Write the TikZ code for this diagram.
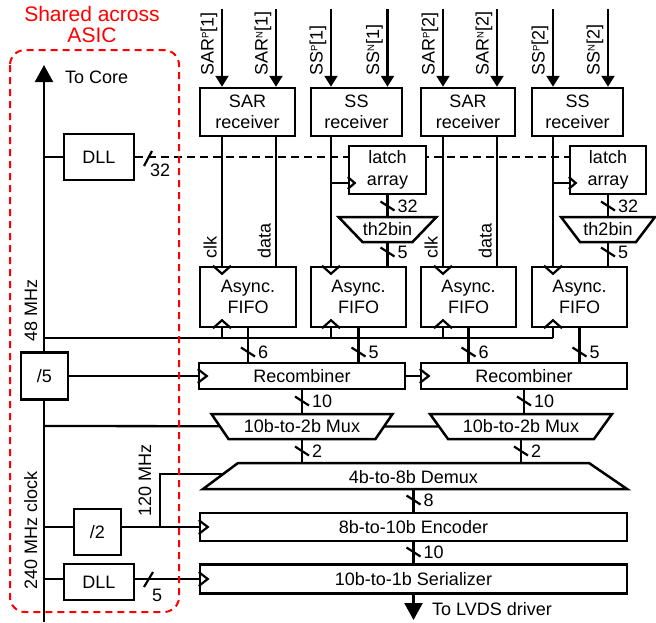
\documentclass[tikz,border=0pt]{standalone}
\usepackage{fontspec}
\setmainfont{Liberation Sans}
\usetikzlibrary{arrows.meta}
\pgfdeclarelayer{bg}
\pgfsetlayers{bg,main}
\newcommand{\sbs}[1]{\raisebox{5pt}{\fontsize{9.5}{9.5}\selectfont #1}}
\newcommand{\vbus}[4]{%
  \draw[slash] (#2-7,#3-4.5) -- (#2+7,#3+4.5);
  \node[blab] (#1) at (#2+10,#3+6.5) {#4};}
\newcommand{\cktop}[1]{\draw[ck] ([shift={(-9,0)}]#1) -- ([shift={(0,8)}]#1) -- ([shift={(9,0)}]#1);}
\newcommand{\ckbot}[1]{\draw[ck] ([shift={(-9,0)}]#1) -- ([shift={(0,-8)}]#1) -- ([shift={(9,0)}]#1);}
\newcommand{\ckleft}[1]{\draw[ck] ([shift={(0,-7)}]#1) -- ([shift={(9,0)}]#1) -- ([shift={(0,7)}]#1);}
\newcommand{\ckleftsm}[1]{\draw[ck] ([shift={(0,-6)}]#1) -- ([shift={(7,0)}]#1) -- ([shift={(0,6)}]#1);}
\begin{document}
\begin{tikzpicture}[x=1pt,y=-1pt,
  txt/.style={font=\fontsize{18}{22}\selectfont, inner sep=0pt},
  blk/.style={draw, line width=2.5pt, fill=white, inner sep=0pt, align=center, font=\fontsize{18}{21.5}\selectfont},
  wire/.style={line width=2.3pt},
  shp/.style={draw, line width=2.5pt, fill=white, line join=miter},
  ck/.style={line width=2.2pt, line join=miter},
  slash/.style={line width=2.2pt},
  inarr/.style={wire, -{Triangle[length=11pt,width=13pt]}},
  bigarr/.style={wire, -{Triangle[length=17pt,width=18pt]}},
  dllbus/.style={wire, dash pattern=on 8pt off 5pt},
  asicbox/.style={draw=red, line width=2pt, dash pattern=on 7pt off 5pt, rounded corners=15pt},
  rlab/.style={txt, rotate=90, anchor=base west},
  blab/.style={txt, anchor=base west},
]
\useasboundingbox (0,0) rectangle (656,622);

% ---------- shared region ----------
\draw[asicbox] (10,50) rectangle (179,612);
\node[txt, text=red, align=center, font=\fontsize{21}{21}\selectfont] (shared) at (92,24) {Shared across\\ASIC};

% ---------- coordinates ----------
\coordinate (mtop) at (44,65);
\coordinate (mbot) at (44,622);
\coordinate (i1) at (222,9);
\coordinate (i2) at (276,9);
\coordinate (i3) at (331,9);
\coordinate (i4) at (387.5,9);
\coordinate (i5) at (443,9);
\coordinate (i6) at (497,9);
\coordinate (i7) at (553,9);
\coordinate (i8) at (608,9);

% ---------- blocks ----------
\node[blk, minimum width=95pt, minimum height=48pt] (sar1) at (247.5,112) {SAR\\receiver};
\node[blk, minimum width=91pt, minimum height=48pt] (ss1) at (356.5,112) {SS\\receiver};
\node[blk, minimum width=94pt, minimum height=48pt] (sar2) at (468,112) {SAR\\receiver};
\node[blk, minimum width=91pt, minimum height=48pt] (ss2) at (577.5,112) {SS\\receiver};

\node[blk, minimum width=70pt, minimum height=46pt] (dll1) at (99,157) {DLL};

\node[blk, minimum width=77pt, minimum height=48pt] (latch1) at (387.5,170) {latch\\array};
\node[blk, minimum width=76pt, minimum height=48pt] (latch2) at (608,170) {latch\\array};

\coordinate (th1c) at (387.5,229.5);
\coordinate (th2c) at (608,229.5);
\draw[shp] ([shift={(-49,-12.5)}]th1c) -- ([shift={(49,-12.5)}]th1c) -- ([shift={(25,12.5)}]th1c) -- ([shift={(-25,12.5)}]th1c) -- cycle;
\draw[shp] ([shift={(-47,-12.5)}]th2c) -- ([shift={(47,-12.5)}]th2c) -- ([shift={(28,12.5)}]th2c) -- ([shift={(-28,12.5)}]th2c) -- cycle;
\node[txt] (th1) at (th1c) {th2bin};
\node[txt] (th2) at (th2c) {th2bin};

\node[blk, minimum width=96pt, minimum height=60pt] (fifo1) at (248,297) {Async.\\FIFO};
\node[blk, minimum width=95pt, minimum height=60pt] (fifo2) at (358.5,297) {Async.\\FIFO};
\node[blk, minimum width=95pt, minimum height=60pt] (fifo3) at (468.5,297) {Async.\\FIFO};
\node[blk, minimum width=95pt, minimum height=60pt] (fifo4) at (579.5,297) {Async.\\FIFO};

\node[blk, minimum width=206pt, minimum height=26pt] (rec1) at (302,376) {Recombiner};
\node[blk, minimum width=206pt, minimum height=26pt] (rec2) at (524,376) {Recombiner};
\node[blk, minimum width=47pt, minimum height=47pt] (div5) at (44.5,376) {/5};

\coordinate (m1c) at (302,426.5);
\coordinate (m2c) at (521,426.5);
\draw[shp] ([shift={(-90.5,-12.5)}]m1c) -- ([shift={(90.5,-12.5)}]m1c) -- ([shift={(73.5,12.5)}]m1c) -- ([shift={(-73.5,12.5)}]m1c) -- cycle;
\draw[shp] ([shift={(-91,-12.5)}]m2c) -- ([shift={(91,-12.5)}]m2c) -- ([shift={(73,12.5)}]m2c) -- ([shift={(-73,12.5)}]m2c) -- cycle;
\node[txt] (mux1) at (m1c) {10b-to-2b Mux};
\node[txt] (mux2) at (m2c) {10b-to-2b Mux};

\coordinate (dtl) at (238,463);
\coordinate (dtr) at (589,463);
\coordinate (dbr) at (627,489);
\coordinate (dbl) at (203,489);
\draw[shp] (dtl) -- (dtr) -- (dbr) -- (dbl) -- cycle;
\node[txt] (dmx) at (413.5,477) {4b-to-8b Demux};

\node[blk, minimum width=47pt, minimum height=46pt] (div2) at (97.5,532) {/2};
\node[blk, minimum width=427pt, minimum height=28pt] (enc) at (413.5,527) {8b-to-10b Encoder};
\node[blk, minimum width=427pt, minimum height=29pt] (ser) at (413.5,579) {10b-to-1b Serializer};
\node[blk, minimum width=70pt, minimum height=36pt] (dll2) at (99,582) {DLL};

% ---------- wires (behind blocks) ----------
\begin{pgfonlayer}{bg}
  \draw[bigarr] (mbot) -- (mtop);
  \draw[wire] (mtop |- dll1) -- (dll1.west);
  \draw[dllbus] (dll1.east) -- (latch2.west |- dll1.east);
  % inputs
  \draw[inarr] (i1) -- (i1 |- sar1.north);
  \draw[inarr] (i2) -- (i2 |- sar1.north);
  \draw[inarr] (i3) -- (i3 |- ss1.north);
  \draw[inarr] (i4) -- (i4 |- ss1.north);
  \draw[inarr] (i5) -- (i5 |- sar2.north);
  \draw[inarr] (i6) -- (i6 |- sar2.north);
  \draw[inarr] (i7) -- (i7 |- ss2.north);
  \draw[inarr] (i8) -- (i8 |- ss2.north);
  % receiver outputs
  \draw[wire] (i1 |- sar1.south) -- (i1 |- fifo1.north);
  \draw[wire] (i2 |- sar1.south) -- (i2 |- fifo1.north);
  \draw[wire] (i3 |- ss1.south) -- (i3 |- fifo2.north);
  \draw[wire] (i5 |- sar2.south) -- (i5 |- fifo3.north);
  \draw[wire] (i6 |- sar2.south) -- (i6 |- fifo3.north);
  \draw[wire] (i7 |- ss2.south) -- (i7 |- fifo4.north);
  % latch clocks
  \coordinate (lc1) at (331,183);
  \coordinate (lc2) at (553,183);
  \draw[wire] (lc1) -- (latch1.west |- lc1);
  \draw[wire] (lc2) -- (latch2.west |- lc2);
  % latch -> th2bin -> fifo
  \draw[wire] (latch1.south) -- ([shift={(0,-12.5)}]th1c);
  \draw[wire] ([shift={(0,12.5)}]th1c) -- (th1c |- fifo2.north);
  \draw[wire] (latch2.south) -- ([shift={(0,-12.5)}]th2c);
  \draw[wire] ([shift={(0,12.5)}]th2c) -- (th2c |- fifo4.north);
  % 48 MHz clock bus
  \coordinate (c48) at (44,338);
  \draw[wire] (c48) -- (i7 |- c48);
  \draw[wire] (i1 |- fifo1.south) -- (i1 |- c48);
  \draw[wire] (i3 |- fifo2.south) -- (i3 |- c48);
  \draw[wire] (i5 |- fifo3.south) -- (i5 |- c48);
  \draw[wire] (i7 |- fifo4.south) -- (i7 |- c48);
  % fifo -> recombiner
  \draw[wire] (fifo1.south) -- (fifo1.south |- rec1.north);
  \draw[wire] (fifo2.south) -- (fifo2.south |- rec1.north);
  \draw[wire] (fifo3.south) -- (fifo3.south |- rec2.north);
  \draw[wire] (fifo4.south) -- (fifo4.south |- rec2.north);
  \draw[wire] (div5.east) -- (rec1.west);
  \draw[wire] (rec1.east) -- (rec2.west);
  % recombiner -> mux
  \draw[wire] (rec1.south) -- ([shift={(0,-12.5)}]m1c);
  \draw[wire] (rec2.south) -- (rec2.south |- 0,414);
  \coordinate (sel) at (44,426);
  \draw[wire] (sel) -- ([shift={(-78,0)}]m2c);
  % mux -> demux
  \draw[wire] ([shift={(0,12.5)}]m1c) -- (m1c |- dtl);
  \draw[wire] ([shift={(0,12.5)}]m2c) -- (m2c |- dtl);
  % 120 MHz
  \coordinate (c240) at (44,527);
  \coordinate (j120) at (160,527);
  \draw[wire] (c240) -- (div2.west |- c240);
  \draw[wire] (div2.east |- c240) -- (enc.west);
  \draw[wire] (j120) -- (160,474) -- (232,474);
  % demux -> encoder -> serializer
  \draw[wire] (enc.north |- dbl) -- (enc.north);
  \draw[wire] (enc.south) -- (ser.north);
  \draw[wire] (mtop |- ser.west) -- (dll2.west |- ser.west);
  \draw[wire] (dll2.east |- ser.west) -- (ser.west);
  \coordinate (lvds) at (413.5,620);
  \draw[bigarr] (ser.south) -- (lvds);
\end{pgfonlayer}

% ---------- clock marks ----------
\cktop{i1 |- fifo1.north}
\cktop{i3 |- fifo2.north}
\cktop{i5 |- fifo3.north}
\cktop{i7 |- fifo4.north}
\ckbot{i1 |- fifo1.south}
\ckbot{i3 |- fifo2.south}
\ckbot{i5 |- fifo3.south}
\ckbot{i7 |- fifo4.south}
\ckleftsm{latch1.west |- lc1}
\ckleftsm{latch2.west |- lc2}
\ckleft{rec1.west}
\ckleft{rec2.west}
\ckleft{enc.west}
\ckleft{ser.west}

% ---------- bus widths ----------
\draw[slash] (144,166) -- (152,151);
\node[blab] (w32a) at (150,176) {32};
\draw[slash] (144,587) -- (153,572);
\node[blab] (w5d) at (152,601) {5};
\vbus{w32b}{387.5}{206}{32}
\vbus{w5b}{387.5}{252}{5}
\vbus{w32c}{608}{206}{32}
\vbus{w5c}{608}{252}{5}
\vbus{w6a}{248}{352}{6}
\vbus{w5e}{358.5}{352}{5}
\vbus{w6b}{468.5}{352}{6}
\vbus{w5f}{579.5}{352}{5}
\vbus{w10a}{302}{401}{10}
\vbus{w10b}{524}{401}{10}
\vbus{w2a}{302}{451}{2}
\vbus{w2b}{521}{451}{2}
\vbus{w8}{413.5}{500}{8}
\vbus{w10c}{413.5}{552}{10}

% ---------- labels ----------
\node[blab] (tocore) at (65,83) {To Core};
\node[blab] (tolvds) at (432,615) {To LVDS driver};
\node[rlab] (l48) at (37,342) {48 MHz};
\node[rlab] (l240) at (37,590) {240 MHz clock};
\node[rlab] (l120) at (151,517) {120 MHz};
\node[rlab] (lsarp1) at (213.5,76) {SAR\sbs{P}[1]};
\node[rlab] (lsarn1) at (267.5,76) {SAR\sbs{N}[1]};
\node[rlab] (lssp1) at (322.5,76) {SS\sbs{P}[1]};
\node[rlab] (lssn1) at (379,76) {SS\sbs{N}[1]};
\node[rlab] (lsarp2) at (434.5,76) {SAR\sbs{P}[2]};
\node[rlab] (lsarn2) at (488.5,76) {SAR\sbs{N}[2]};
\node[rlab] (lssp2) at (544.5,76) {SS\sbs{P}[2]};
\node[rlab] (lssn2) at (599.5,76) {SS\sbs{N}[2]};
\node[rlab] (lclk1) at (216.5,259) {clk};
\node[rlab] (ldata1) at (270.5,259) {data};
\node[rlab] (lclk3) at (437.5,259) {clk};
\node[rlab] (ldata3) at (491.5,259) {data};
\end{tikzpicture}
\end{document}
